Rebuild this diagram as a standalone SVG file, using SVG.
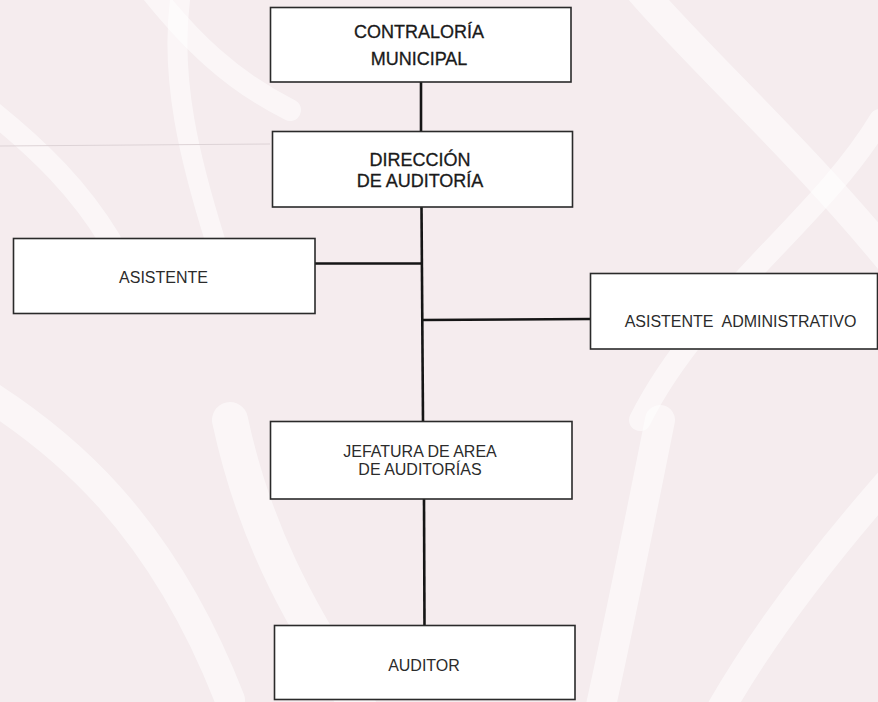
<svg xmlns="http://www.w3.org/2000/svg" width="878" height="702" viewBox="0 0 878 702">
<style>
.box{fill:#ffffff;stroke:#2a2a2a;stroke-width:1.6}
.t{font-family:"Liberation Sans",Arial,sans-serif;fill:#2b2b2b;text-anchor:middle}
.big{font-size:18px;fill:#1a1a1a;stroke:#1a1a1a;stroke-width:0.3}
.sm{font-size:16px}
.c{stroke:#151515;stroke-width:2.6;fill:none}
.sw{fill:none;stroke:#ffffff;stroke-linecap:round;opacity:0.55}
</style>
<rect x="0" y="0" width="878" height="702" fill="#f5ecee"/>
<g id="watermark">
<path class="sw" stroke-width="22" d="M150 -10 C 190 40, 230 80, 290 110"/>
<path class="sw" stroke-width="20" d="M180 0 C 170 80, 190 160, 215 240"/>
<path class="sw" stroke-width="22" d="M-10 110 C 40 150, 80 190, 110 240"/>
<path class="sw" stroke-width="30" d="M-20 390 C 60 440, 160 520, 230 700"/>
<path class="sw" stroke-width="36" d="M230 420 C 260 560, 320 640, 360 710"/>
<path class="sw" stroke-width="30" d="M640 -10 C 700 60, 800 150, 890 260"/>
<path class="sw" stroke-width="22" d="M880 120 C 820 220, 700 300, 640 420"/>
<path class="sw" stroke-width="30" d="M660 420 C 640 520, 620 620, 600 710"/>
<path class="sw" stroke-width="28" d="M890 480 C 820 560, 760 640, 720 710"/>
</g>
<line x1="0" y1="146" x2="270" y2="144" stroke="#ddd3d6" stroke-width="1"/>
<g id="connectors">
<line class="c" x1="421" y1="82" x2="421" y2="132"/>
<line class="c" x1="421.5" y1="207" x2="423" y2="422"/>
<line class="c" x1="315" y1="263.5" x2="422" y2="263.5"/>
<line class="c" x1="422" y1="320" x2="590" y2="319"/>
<line class="c" x1="424" y1="499" x2="424.5" y2="626"/>
</g>
<g id="contraloria">
<rect class="box" x="270.5" y="7.5" width="300.5" height="74.5"/>
<text class="t big" x="419" y="38">CONTRALORÍA</text>
<text class="t big" x="419" y="65">MUNICIPAL</text>
</g>
<g id="direccion">
<rect class="box" x="272.5" y="131.5" width="300" height="75.5"/>
<text class="t big" x="420" y="166">DIRECCIÓN</text>
<text class="t big" x="420" y="187">DE AUDITORÍA</text>
</g>
<g id="asistente">
<rect class="box" x="13.5" y="238.5" width="301.5" height="75"/>
<text class="t sm" x="163.5" y="283">ASISTENTE</text>
</g>
<g id="asistente-administrativo">
<rect class="box" x="590.5" y="273.5" width="287" height="75.5"/>
<text class="t sm" x="740.5" y="327" xml:space="preserve">ASISTENTE  ADMINISTRATIVO</text>
</g>
<g id="jefatura">
<rect class="box" x="270.5" y="421.5" width="301.5" height="77.5"/>
<text class="t sm" x="420" y="457">JEFATURA DE AREA</text>
<text class="t sm" x="420" y="475">DE AUDITORÍAS</text>
</g>
<g id="auditor">
<rect class="box" x="274.5" y="625.5" width="300.5" height="74"/>
<text class="t sm" x="424" y="671">AUDITOR</text>
</g>
</svg>
